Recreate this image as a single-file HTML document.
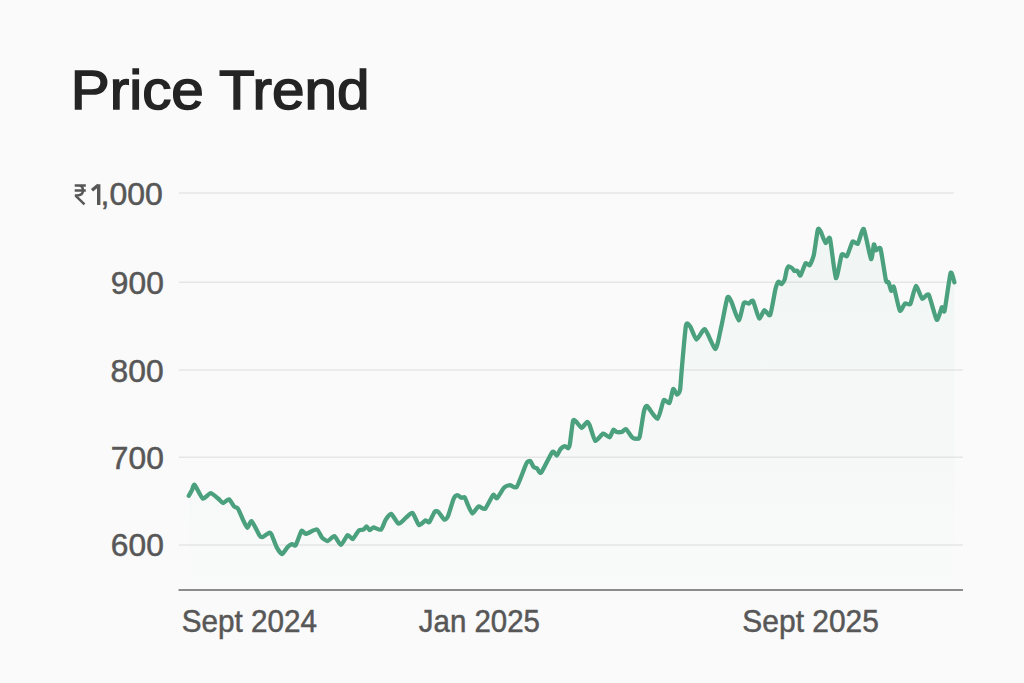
<!DOCTYPE html>
<html><head><meta charset="utf-8"><style>
html,body{margin:0;padding:0;background:#fafafa;}
body{width:1024px;height:683px;overflow:hidden;font-family:"Liberation Sans",sans-serif;}
svg{display:block}
</style></head><body>
<svg width="1024" height="683" viewBox="0 0 1024 683">
<defs>
<linearGradient id="g" x1="0" y1="0" x2="0" y2="1" gradientUnits="objectBoundingBox">
<stop offset="0" stop-color="#5cb892" stop-opacity="0.065"/>
<stop offset="0.5" stop-color="#5cb892" stop-opacity="0.03"/>
<stop offset="1" stop-color="#5cb892" stop-opacity="0.005"/>
</linearGradient>
</defs>
<rect width="1024" height="683" fill="#fafafa"/>
<text x="70.76" y="109.3" font-family="Liberation Sans" font-size="55.5" fill="#242424" stroke="#242424" stroke-width="1.5" textLength="298.65" lengthAdjust="spacingAndGlyphs">Price Trend</text>
<g stroke="#e6e6e6" stroke-width="1.5">
<line x1="179" y1="193.1" x2="954" y2="193.1"/>
<line x1="179" y1="282.3" x2="954" y2="282.3"/>
<line x1="179" y1="369.9" x2="963" y2="369.9"/>
<line x1="179" y1="457.3" x2="963" y2="457.3"/>
<line x1="179" y1="545.1" x2="963" y2="545.1"/>
</g>
<path d="M188.8 495.8C189.1 495.2 191.3 491.4 191.9 490.3C192.5 489.2 193.5 484 194.6 484.8C195.7 485.6 201.1 497.7 202.7 498.5C204.3 499.3 209.2 493.1 210.7 493.1C212.2 493.1 216.8 497.5 218.1 498.5C219.3 499.5 222.1 502.9 223.2 503C224.3 503.1 227.9 498.9 229 499.3C230.1 499.7 233.3 505.7 234.2 506.6C235.1 507.5 236.9 507.1 237.8 508.4C238.7 509.7 242.1 517.9 243 519.8C243.9 521.7 246.4 527.7 247.3 527.8C248.2 527.9 250.4 520.4 251.7 521.2C252.9 522 258.7 534.3 259.8 535.9C260.9 537.5 261.8 537.3 262.7 537C263.6 536.7 268.4 533 269.3 532.7C270.2 532.4 270.8 533 271.5 534.4C272.2 535.8 275.6 545.1 276.6 547.1C277.7 549.1 280.9 554.1 282 554.1C283.1 554.1 286.6 548.1 287.6 547.1C288.6 546.1 291.2 544.4 292 544.2C292.8 544 294.7 546.6 295.6 545.3C296.6 544 300.5 532.1 301.5 531C302.5 529.9 304.4 534 305.9 533.9C307.4 533.8 315.3 529.1 316.9 529.5C318.5 529.9 320.9 536.5 322 537.6C323.1 538.8 326.6 541.1 327.8 541C329 540.9 333.1 535.7 334.4 536.1C335.7 536.5 339.7 545 341 544.9C342.3 544.8 346.4 535.7 347.6 535.1C348.8 534.5 351.6 539.5 352.7 539C353.8 538.5 357.6 531.5 358.7 530.6C359.8 529.7 362.5 530.1 363.3 529.7C364.1 529.3 366 526.4 366.6 526.4C367.2 526.4 369.1 530 369.8 530.1C370.5 530.2 372.5 527.4 373.6 527.4C374.7 527.4 379.8 530.5 381 529.7C382.2 529 384.6 521.5 385.6 519.9C386.6 518.3 389.9 513.5 391.2 513.9C392.5 514.3 397.1 523.3 398.6 523.7C400.1 524.1 404.6 518.7 406 517.6C407.4 516.5 411.2 512.3 412.5 513C413.8 513.7 417.7 524.3 419 525C420.3 525.7 424.5 520.7 425.5 520.4C426.5 520.1 428.3 523.2 429.2 522.3C430.1 521.4 433.9 512.6 434.8 511.6C435.7 510.6 437.6 511.3 438.5 512.1C439.4 512.9 443.2 519 444.1 519.5C445 520 446.8 518.8 447.8 516.7C448.8 514.6 452.7 500.8 453.7 498.6C454.7 496.5 456.6 495.3 457.4 495.2C458.2 495.1 460.7 497.6 461.4 497.8C462.1 498 464 496.5 464.7 497.3C465.4 498.1 467.3 503.8 468.1 505.4C468.9 507 471.4 513.4 472.4 513.5C473.4 513.6 477.2 506.9 478.5 506.4C479.8 505.9 483.6 509.9 485.1 508.8C486.6 507.7 492 495.9 493.2 494.9C494.4 493.8 495.8 499 496.9 498.3C498 497.6 502.9 488.9 504.2 487.6C505.5 486.3 508.8 485.2 510 485.1C511.2 485 515.1 488.7 516.6 487C518.1 485.3 523.5 470.5 524.5 468C525.5 465.5 526.4 463 527 462.3C527.6 461.6 529.6 460.5 530.3 461C531 461.5 533 466.4 533.7 467.1C534.4 467.9 536.4 467.9 537.1 468.5C537.9 469.1 539.7 474.2 541.2 472.6C542.7 471 550.8 453.7 552.4 452C554 450.3 556 455.9 556.8 455.6C557.6 455.3 559.7 449.9 560.5 449C561.3 448.1 564.1 446.2 564.9 446.1C565.7 446 567.7 448.5 568.2 448.3C568.7 448.1 569.4 446.6 569.9 443.9C570.4 441.2 572.4 423.2 573 421C573.6 418.8 575.1 420.8 576 421.5C576.9 422.2 580.6 427.8 581.7 427.8C582.8 427.9 586.1 422.2 586.9 422C587.7 421.8 589 423.7 589.8 425.6C590.6 427.5 594 440 595.3 440.8C596.6 441.6 601.7 434 603.1 433.6C604.5 433.2 608.6 437.7 609.6 437.3C610.6 436.9 612.7 430.3 613.4 429.8C614.1 429.3 615.5 431.7 616.4 431.9C617.2 432.1 620.9 432.2 621.9 431.9C622.9 431.6 625 428.6 626 429.1C627 429.6 631.1 436.3 632.2 437.3C633.3 438.3 636.2 438.8 637 438.7C637.8 438.6 639 439.4 639.7 436.7C640.4 434 643.1 415.1 643.8 412C644.5 408.9 645.6 405.3 647 406C648.4 406.7 655.9 419.4 657.6 418.8C659.3 418.2 662.5 401.9 663.7 400.3C664.9 398.7 668.4 404.1 669.4 403C670.4 401.9 672.5 389.8 673.2 389C674 388.2 676.2 394.5 676.9 394.6C677.6 394.7 679.5 392.7 680 390.2C680.5 387.7 681.1 376.5 681.7 370C682.3 363.5 685.1 329.5 686 325.2C686.9 320.9 689.5 325.6 690.5 327C691.5 328.4 695.1 339.3 696.5 339.5C697.9 339.7 703 328.4 704.9 329.3C706.8 330.2 713.9 349.3 715.5 349C717.1 348.7 720.1 331.7 721.3 326.6C722.5 321.5 726.4 300.1 727.4 297.6C728.4 295.1 730.4 299.7 731.5 302C732.6 304.3 737.5 320.3 738.7 320.4C739.9 320.5 742.8 304.7 743.8 303C744.8 301.3 748 303.8 748.9 303.6C749.8 303.4 752 299.4 753 300.9C754 302.4 758.1 317.5 759.2 318.4C760.3 319.3 763.2 310.6 764.3 310.2C765.4 309.8 769.1 316.9 770.2 314.9C771.3 312.9 774.5 293.1 775.3 289.8C776.1 286.5 777.8 282.4 778.4 281.8C779 281.2 780.9 284.4 781.5 284.2C782.1 284 784.1 281 784.6 279.6C785.1 278.2 786.2 271.7 786.6 270.4C787 269.1 788.1 266.5 788.7 266.3C789.3 266.1 791.7 267.8 792.3 268.3C792.9 268.8 793.8 270.6 794.3 270.9C794.8 271.2 796.8 270.4 797.4 270.9C798 271.4 799.7 276.3 800.5 275.5C801.3 274.7 804.7 264.2 805.6 263.2C806.5 262.2 808.9 266 809.7 265.2C810.5 264.4 813 258.5 813.8 255C814.6 251.5 817.1 232.2 817.8 229.8C818.5 227.4 819.7 229.9 820.5 231.2C821.3 232.5 824.6 242.2 825.6 242.9C826.6 243.6 829 235.1 830 238.6C831 242.1 834.7 276.5 835.9 278.1C837.1 279.7 840.6 256.9 841.7 254.7C842.8 252.5 845.8 257.4 846.9 256.1C848 254.8 851.6 242.7 852.7 241.5C853.8 240.3 856.7 244.9 857.8 243.7C858.9 242.4 862.4 227.5 863.7 229C865 230.5 870 257.5 871 259C872 260.5 873.4 245.3 873.9 244.4C874.4 243.5 875.4 249.9 876.1 250.3C876.8 250.7 879.5 245.8 880.5 248.8C881.5 251.8 885.1 276.9 885.9 280.3C886.7 283.7 888.1 281.2 888.6 282.3C889.1 283.4 890.7 290.3 891.2 290.8C891.7 291.3 892.9 284.9 893.8 286.9C894.7 288.9 898.7 309 899.8 310.6C900.9 312.2 904 304.1 905 303.4C906 302.7 909.2 305.7 910.3 304C911.4 302.3 914.7 286.5 915.9 286C917.1 285.5 920.9 297.8 922.2 298.7C923.5 299.6 927.2 292.7 928.7 294.8C930.2 296.9 935.4 318.6 936.7 319.8C938 321.1 941.1 308.2 941.9 307.3C942.7 306.4 943.7 314 944.6 310.6C945.5 307.2 949.6 275.8 950.6 273C951.6 270.2 954 281.4 954.4 282.3L954.4 589L188.8 589Z" fill="url(#g)"/>
<line x1="178.5" y1="590" x2="963" y2="590" stroke="#8c8c8c" stroke-width="2"/>
<g font-family="Liberation Sans" font-size="30.5" fill="#575757" stroke="#575757" stroke-width="0.5">
<g stroke="#575757" stroke-width="2.5" fill="none">
<path d="M74.7 185.4H85.8M74.7 190.4H85.8M79 185.4C82.3 185.6 83 188.4 83 190.6C83 193.6 80.6 195.6 76.6 195.6H74.8M75.8 195.9L84.5 204.4"/>
</g>
<text x="100.5" y="204.8" textLength="62.3" lengthAdjust="spacingAndGlyphs">,000</text>
<path d="M98.7 184.3V205M98.4 185L92 190.2" stroke-width="3.4" fill="none"/>
<text x="110.8" y="293.6" textLength="53" lengthAdjust="spacingAndGlyphs">900</text>
<text x="110.6" y="381.8" textLength="53.1" lengthAdjust="spacingAndGlyphs">800</text>
<text x="110.8" y="468.7" textLength="53" lengthAdjust="spacingAndGlyphs">700</text>
<text x="110.8" y="556" textLength="53" lengthAdjust="spacingAndGlyphs">600</text>
<text x="181.75" y="631.5" textLength="135.25" lengthAdjust="spacingAndGlyphs">Sept 2024</text>
<text x="418.84" y="631.6" textLength="121.13" lengthAdjust="spacingAndGlyphs">Jan 2025</text>
<text x="742.36" y="631.6" textLength="136.54" lengthAdjust="spacingAndGlyphs">Sept 2025</text>
</g>
<path d="M188.8 495.8C189.1 495.2 191.3 491.4 191.9 490.3C192.5 489.2 193.5 484 194.6 484.8C195.7 485.6 201.1 497.7 202.7 498.5C204.3 499.3 209.2 493.1 210.7 493.1C212.2 493.1 216.8 497.5 218.1 498.5C219.3 499.5 222.1 502.9 223.2 503C224.3 503.1 227.9 498.9 229 499.3C230.1 499.7 233.3 505.7 234.2 506.6C235.1 507.5 236.9 507.1 237.8 508.4C238.7 509.7 242.1 517.9 243 519.8C243.9 521.7 246.4 527.7 247.3 527.8C248.2 527.9 250.4 520.4 251.7 521.2C252.9 522 258.7 534.3 259.8 535.9C260.9 537.5 261.8 537.3 262.7 537C263.6 536.7 268.4 533 269.3 532.7C270.2 532.4 270.8 533 271.5 534.4C272.2 535.8 275.6 545.1 276.6 547.1C277.7 549.1 280.9 554.1 282 554.1C283.1 554.1 286.6 548.1 287.6 547.1C288.6 546.1 291.2 544.4 292 544.2C292.8 544 294.7 546.6 295.6 545.3C296.6 544 300.5 532.1 301.5 531C302.5 529.9 304.4 534 305.9 533.9C307.4 533.8 315.3 529.1 316.9 529.5C318.5 529.9 320.9 536.5 322 537.6C323.1 538.8 326.6 541.1 327.8 541C329 540.9 333.1 535.7 334.4 536.1C335.7 536.5 339.7 545 341 544.9C342.3 544.8 346.4 535.7 347.6 535.1C348.8 534.5 351.6 539.5 352.7 539C353.8 538.5 357.6 531.5 358.7 530.6C359.8 529.7 362.5 530.1 363.3 529.7C364.1 529.3 366 526.4 366.6 526.4C367.2 526.4 369.1 530 369.8 530.1C370.5 530.2 372.5 527.4 373.6 527.4C374.7 527.4 379.8 530.5 381 529.7C382.2 529 384.6 521.5 385.6 519.9C386.6 518.3 389.9 513.5 391.2 513.9C392.5 514.3 397.1 523.3 398.6 523.7C400.1 524.1 404.6 518.7 406 517.6C407.4 516.5 411.2 512.3 412.5 513C413.8 513.7 417.7 524.3 419 525C420.3 525.7 424.5 520.7 425.5 520.4C426.5 520.1 428.3 523.2 429.2 522.3C430.1 521.4 433.9 512.6 434.8 511.6C435.7 510.6 437.6 511.3 438.5 512.1C439.4 512.9 443.2 519 444.1 519.5C445 520 446.8 518.8 447.8 516.7C448.8 514.6 452.7 500.8 453.7 498.6C454.7 496.5 456.6 495.3 457.4 495.2C458.2 495.1 460.7 497.6 461.4 497.8C462.1 498 464 496.5 464.7 497.3C465.4 498.1 467.3 503.8 468.1 505.4C468.9 507 471.4 513.4 472.4 513.5C473.4 513.6 477.2 506.9 478.5 506.4C479.8 505.9 483.6 509.9 485.1 508.8C486.6 507.7 492 495.9 493.2 494.9C494.4 493.8 495.8 499 496.9 498.3C498 497.6 502.9 488.9 504.2 487.6C505.5 486.3 508.8 485.2 510 485.1C511.2 485 515.1 488.7 516.6 487C518.1 485.3 523.5 470.5 524.5 468C525.5 465.5 526.4 463 527 462.3C527.6 461.6 529.6 460.5 530.3 461C531 461.5 533 466.4 533.7 467.1C534.4 467.9 536.4 467.9 537.1 468.5C537.9 469.1 539.7 474.2 541.2 472.6C542.7 471 550.8 453.7 552.4 452C554 450.3 556 455.9 556.8 455.6C557.6 455.3 559.7 449.9 560.5 449C561.3 448.1 564.1 446.2 564.9 446.1C565.7 446 567.7 448.5 568.2 448.3C568.7 448.1 569.4 446.6 569.9 443.9C570.4 441.2 572.4 423.2 573 421C573.6 418.8 575.1 420.8 576 421.5C576.9 422.2 580.6 427.8 581.7 427.8C582.8 427.9 586.1 422.2 586.9 422C587.7 421.8 589 423.7 589.8 425.6C590.6 427.5 594 440 595.3 440.8C596.6 441.6 601.7 434 603.1 433.6C604.5 433.2 608.6 437.7 609.6 437.3C610.6 436.9 612.7 430.3 613.4 429.8C614.1 429.3 615.5 431.7 616.4 431.9C617.2 432.1 620.9 432.2 621.9 431.9C622.9 431.6 625 428.6 626 429.1C627 429.6 631.1 436.3 632.2 437.3C633.3 438.3 636.2 438.8 637 438.7C637.8 438.6 639 439.4 639.7 436.7C640.4 434 643.1 415.1 643.8 412C644.5 408.9 645.6 405.3 647 406C648.4 406.7 655.9 419.4 657.6 418.8C659.3 418.2 662.5 401.9 663.7 400.3C664.9 398.7 668.4 404.1 669.4 403C670.4 401.9 672.5 389.8 673.2 389C674 388.2 676.2 394.5 676.9 394.6C677.6 394.7 679.5 392.7 680 390.2C680.5 387.7 681.1 376.5 681.7 370C682.3 363.5 685.1 329.5 686 325.2C686.9 320.9 689.5 325.6 690.5 327C691.5 328.4 695.1 339.3 696.5 339.5C697.9 339.7 703 328.4 704.9 329.3C706.8 330.2 713.9 349.3 715.5 349C717.1 348.7 720.1 331.7 721.3 326.6C722.5 321.5 726.4 300.1 727.4 297.6C728.4 295.1 730.4 299.7 731.5 302C732.6 304.3 737.5 320.3 738.7 320.4C739.9 320.5 742.8 304.7 743.8 303C744.8 301.3 748 303.8 748.9 303.6C749.8 303.4 752 299.4 753 300.9C754 302.4 758.1 317.5 759.2 318.4C760.3 319.3 763.2 310.6 764.3 310.2C765.4 309.8 769.1 316.9 770.2 314.9C771.3 312.9 774.5 293.1 775.3 289.8C776.1 286.5 777.8 282.4 778.4 281.8C779 281.2 780.9 284.4 781.5 284.2C782.1 284 784.1 281 784.6 279.6C785.1 278.2 786.2 271.7 786.6 270.4C787 269.1 788.1 266.5 788.7 266.3C789.3 266.1 791.7 267.8 792.3 268.3C792.9 268.8 793.8 270.6 794.3 270.9C794.8 271.2 796.8 270.4 797.4 270.9C798 271.4 799.7 276.3 800.5 275.5C801.3 274.7 804.7 264.2 805.6 263.2C806.5 262.2 808.9 266 809.7 265.2C810.5 264.4 813 258.5 813.8 255C814.6 251.5 817.1 232.2 817.8 229.8C818.5 227.4 819.7 229.9 820.5 231.2C821.3 232.5 824.6 242.2 825.6 242.9C826.6 243.6 829 235.1 830 238.6C831 242.1 834.7 276.5 835.9 278.1C837.1 279.7 840.6 256.9 841.7 254.7C842.8 252.5 845.8 257.4 846.9 256.1C848 254.8 851.6 242.7 852.7 241.5C853.8 240.3 856.7 244.9 857.8 243.7C858.9 242.4 862.4 227.5 863.7 229C865 230.5 870 257.5 871 259C872 260.5 873.4 245.3 873.9 244.4C874.4 243.5 875.4 249.9 876.1 250.3C876.8 250.7 879.5 245.8 880.5 248.8C881.5 251.8 885.1 276.9 885.9 280.3C886.7 283.7 888.1 281.2 888.6 282.3C889.1 283.4 890.7 290.3 891.2 290.8C891.7 291.3 892.9 284.9 893.8 286.9C894.7 288.9 898.7 309 899.8 310.6C900.9 312.2 904 304.1 905 303.4C906 302.7 909.2 305.7 910.3 304C911.4 302.3 914.7 286.5 915.9 286C917.1 285.5 920.9 297.8 922.2 298.7C923.5 299.6 927.2 292.7 928.7 294.8C930.2 296.9 935.4 318.6 936.7 319.8C938 321.1 941.1 308.2 941.9 307.3C942.7 306.4 943.7 314 944.6 310.6C945.5 307.2 949.6 275.8 950.6 273C951.6 270.2 954 281.4 954.4 282.3" fill="none" stroke="#4ba07e" stroke-width="4.3" stroke-linejoin="round" stroke-linecap="round"/>
</svg>
</body></html>
